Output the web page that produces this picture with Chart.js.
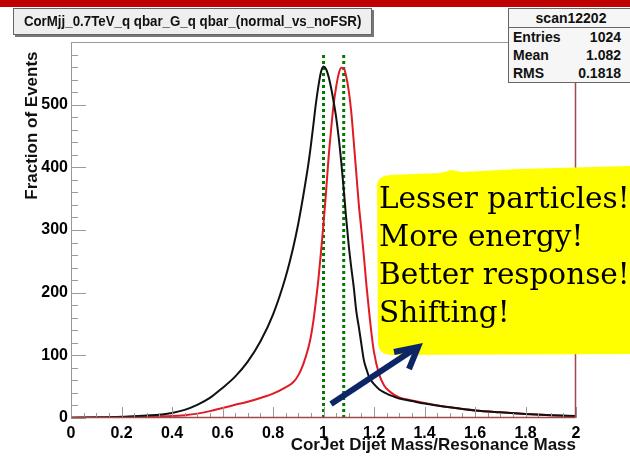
<!DOCTYPE html>
<html>
<head>
<meta charset="utf-8">
<script src="https://cdn.jsdelivr.net/npm/chart.js@4.4.1/dist/chart.umd.min.js"></script>
<style>
  html, body { margin: 0; padding: 0; background: #fff; }
  #wrap { position: relative; width: 630px; height: 456px; overflow: hidden; font-family: "Liberation Sans", Arial, sans-serif; }
  #c { position: absolute; left: 0; top: 0; }
  #topband { position: absolute; left: 0; top: 0; width: 630px; height: 7px; background: #c00000; }
  #title { position: absolute; left: 13px; top: 8px; width: 357px; height: 25px; background: #efefef; border: 1px solid #666;
           box-shadow: 2px 2px 0 #777; font-weight: bold; font-size: 14px; line-height: 25px; text-align: center; color: #111; white-space: nowrap; }
  #title span { display: inline-block; transform: scaleX(0.95); }
  #stats { position: absolute; left: 508px; top: 8px; width: 124px; height: 73px; background: #f6f6f6; border: 1px solid #666;
           font-weight: bold; font-size: 14px; color: #111; }
  #stats .hd { text-align: center; height: 18px; line-height: 18px; border-bottom: 1px solid #666; }
  #stats .row { display: flex; justify-content: space-between; padding: 0 12px 0 4px; height: 18px; line-height: 18px; }
  #note { position: absolute; left: 0; top: 0; }
  #notetext { position: absolute; left: 379px; top: 179px; font-family: "DejaVu Serif", serif; font-size: 29.5px; line-height: 38px; color: #000; white-space: nowrap; }
</style>
</head>
<body>
<div id="wrap">
  <canvas id="c" width="630" height="456"></canvas>
  <div id="topband"></div>
  <div id="title"><span>CorMjj_0.7TeV_q qbar_G_q qbar_(normal_vs_noFSR)</span></div>
  <div id="stats">
    <div class="hd">scan12202</div>
    <div class="row"><span>Entries</span><span>1024</span></div>
    <div class="row"><span>Mean</span><span>1.082</span></div>
    <div class="row"><span>RMS</span><span>0.1818</span></div>
  </div>
  <svg id="note" width="630" height="456">
    <path d="M377 186 Q377 176 390 175 L440 173 L452 170 L462 172 L520 169 L630 166 L630 354 L392 355 Q378 355 378 342 Z" fill="#ffff00"/>
    <line x1="331" y1="404" x2="416" y2="348" stroke="#0b2566" stroke-width="6" stroke-linecap="butt"/>
    <polyline points="394,352 418,347 409,369" fill="none" stroke="#0b2566" stroke-width="6" stroke-linejoin="miter"/>
  </svg>
  <div id="notetext">Lesser particles!<br>More energy!<br>Better response!<br>Shifting!</div>
</div>
<script>
// ---- data ----
const xGrid = [0, 0.1, 0.2, 0.3, 0.35, 0.4, 0.45, 0.5, 0.55, 0.6, 0.65, 0.7, 0.75, 0.8, 0.85, 0.88, 0.9, 0.92, 0.94, 0.95, 0.96, 0.97, 0.98, 0.99,
  1.0, 1.01, 1.02, 1.03, 1.04, 1.05, 1.06, 1.07, 1.08, 1.09, 1.1, 1.11, 1.12, 1.13, 1.14, 1.15, 1.16, 1.17, 1.18, 1.19, 1.2,
  1.22, 1.24, 1.26, 1.28, 1.3, 1.35, 1.4, 1.5, 1.6, 1.7, 1.8, 1.9, 2.0];
const normalValues = [0.5, 1, 2, 4, 5, 8, 13, 21, 32, 48, 66, 90, 122, 165, 225, 272, 310, 355, 405, 435, 468, 502, 530, 552,
  561, 557, 545, 527, 505, 480, 448, 410, 365, 318, 275, 240, 208, 170, 145, 118, 92, 78, 66, 59, 54,
  46, 41, 37, 34, 31, 27, 23, 17, 12, 9, 6.5, 4.5, 3];
const noFSRValues = [0.3, 0.5, 1, 2, 2.5, 3, 4.5, 7, 11, 16, 21, 26, 32, 39, 49, 57, 68, 86, 112, 130, 155, 187, 222, 265,
  310, 360, 415, 460, 500, 528, 549, 559, 558, 545, 522, 488, 440, 390, 340, 300, 258, 212, 172, 135, 105,
  70, 52, 43, 37, 33, 28, 24, 17, 12, 9, 6.5, 4.5, 2.5];
const peakMarkers = [1.0, 1.08];
const peakMarkerTop = 580;
const xTickValues = [0, 0.2, 0.4, 0.6, 0.8, 1, 1.2, 1.4, 1.6, 1.8, 2];
const xTickLabels = ['0', '0.2', '0.4', '0.6', '0.8', '1', '1.2', '1.4', '1.6', '1.8', '2'];
const yTickValues = [0, 100, 200, 300, 400, 500];
const yTickLabels = ['0', '100', '200', '300', '400', '500'];
const xRange = [0, 2];
const yRange = [0, 600];

const toPts = (vals) => xGrid.map((x, i) => ({ x: x, y: vals[i] }));

const frameTicks = {
  id: 'frameTicks',
  afterDatasetsDraw(chart) {
    const { ctx, chartArea: a, scales: { x, y } } = chart;
    ctx.save();
    ctx.lineWidth = 1;
    ctx.strokeStyle = '#9a9a9a';
    const seg = (x1, y1, x2, y2) => { ctx.beginPath(); ctx.moveTo(x1, y1); ctx.lineTo(x2, y2); ctx.stroke(); };
    for (let v = yRange[0]; v <= yRange[1]; v += 20) {
      const py = Math.round(y.getPixelForValue(v)) + 0.5;
      seg(a.left, py, a.left + (v % 100 === 0 ? 15 : 7), py);
    }
    for (let i = 0; i <= 40; i++) {
      const px = Math.round(x.getPixelForValue(i * 0.05)) + 0.5;
      seg(px, a.bottom, px, a.bottom - (i % 4 === 0 ? 11 : 5));
    }
    const L = Math.round(a.left) + 0.5, R = Math.round(a.right) - 0.5, T = Math.round(a.top) + 0.5, B = Math.round(a.bottom) - 0.5;
    ctx.strokeStyle = '#999';
    seg(L, T, R, T);
    seg(L, T, L, B);
    ctx.strokeStyle = '#a04848';
    ctx.lineWidth = 1.5;
    seg(L, B, R, B);
    seg(R, T, R, B);
    ctx.restore();
  }
};

new Chart(document.getElementById('c'), {
  type: 'scatter',
  data: {
    datasets: [
      { label: 'normal', data: toPts(normalValues), showLine: true, borderColor: '#111', borderWidth: 2, pointRadius: 0, cubicInterpolationMode: 'monotone' },
      { label: 'noFSR', data: toPts(noFSRValues), showLine: true, borderColor: '#e01b24', borderWidth: 2, pointRadius: 0, cubicInterpolationMode: 'monotone' },
      ...peakMarkers.map(m => ({ label: 'peak ' + m, data: [{ x: m, y: 0 }, { x: m, y: peakMarkerTop }], showLine: true,
        borderColor: '#007a00', borderWidth: 3, borderDash: [3, 3], pointRadius: 0 }))
    ]
  },
  options: {
    responsive: false,
    animation: false,
    layout: { padding: { top: 42, right: 54, left: 0, bottom: 0 } },
    plugins: { legend: { display: false }, tooltip: { enabled: false } },
    scales: {
      x: {
        type: 'linear', min: xRange[0], max: xRange[1],
        grid: { display: false, drawTicks: false }, border: { display: false },
        afterBuildTicks: (s) => { s.ticks = xTickValues.map(v => ({ value: v })); },
        afterFit: (s) => { s.height = 38; },
        ticks: { color: '#000', padding: 6, maxRotation: 0, autoSkip: false,
          font: { family: 'Liberation Sans', weight: 'bold', size: 16 },
          callback: (v) => { const i = xTickValues.indexOf(v); return i >= 0 ? xTickLabels[i] : ''; } },
        title: { display: true, text: 'CorJet Dijet Mass/Resonance Mass', align: 'end', color: '#111',
          font: { family: 'Liberation Sans', weight: 'bold', size: 17 }, padding: { top: 0, bottom: 0 } }
      },
      y: {
        type: 'linear', min: yRange[0], max: yRange[1],
        grid: { display: false, drawTicks: false }, border: { display: false },
        afterBuildTicks: (s) => { s.ticks = yTickValues.map(v => ({ value: v })); },
        afterFit: (s) => { s.width = 71; },
        ticks: { color: '#000', padding: 3, autoSkip: false,
          font: { family: 'Liberation Sans', weight: 'bold', size: 16 },
          callback: (v) => { const i = yTickValues.indexOf(v); return i >= 0 ? yTickLabels[i] : ''; } },
        title: { display: true, text: 'Fraction of Events  ', align: 'end', color: '#111',
          font: { family: 'Liberation Sans', weight: 'bold', size: 17 }, padding: { top: 22, bottom: 0 } }
      }
    }
  },
  plugins: [frameTicks]
});
</script>
</body>
</html>
